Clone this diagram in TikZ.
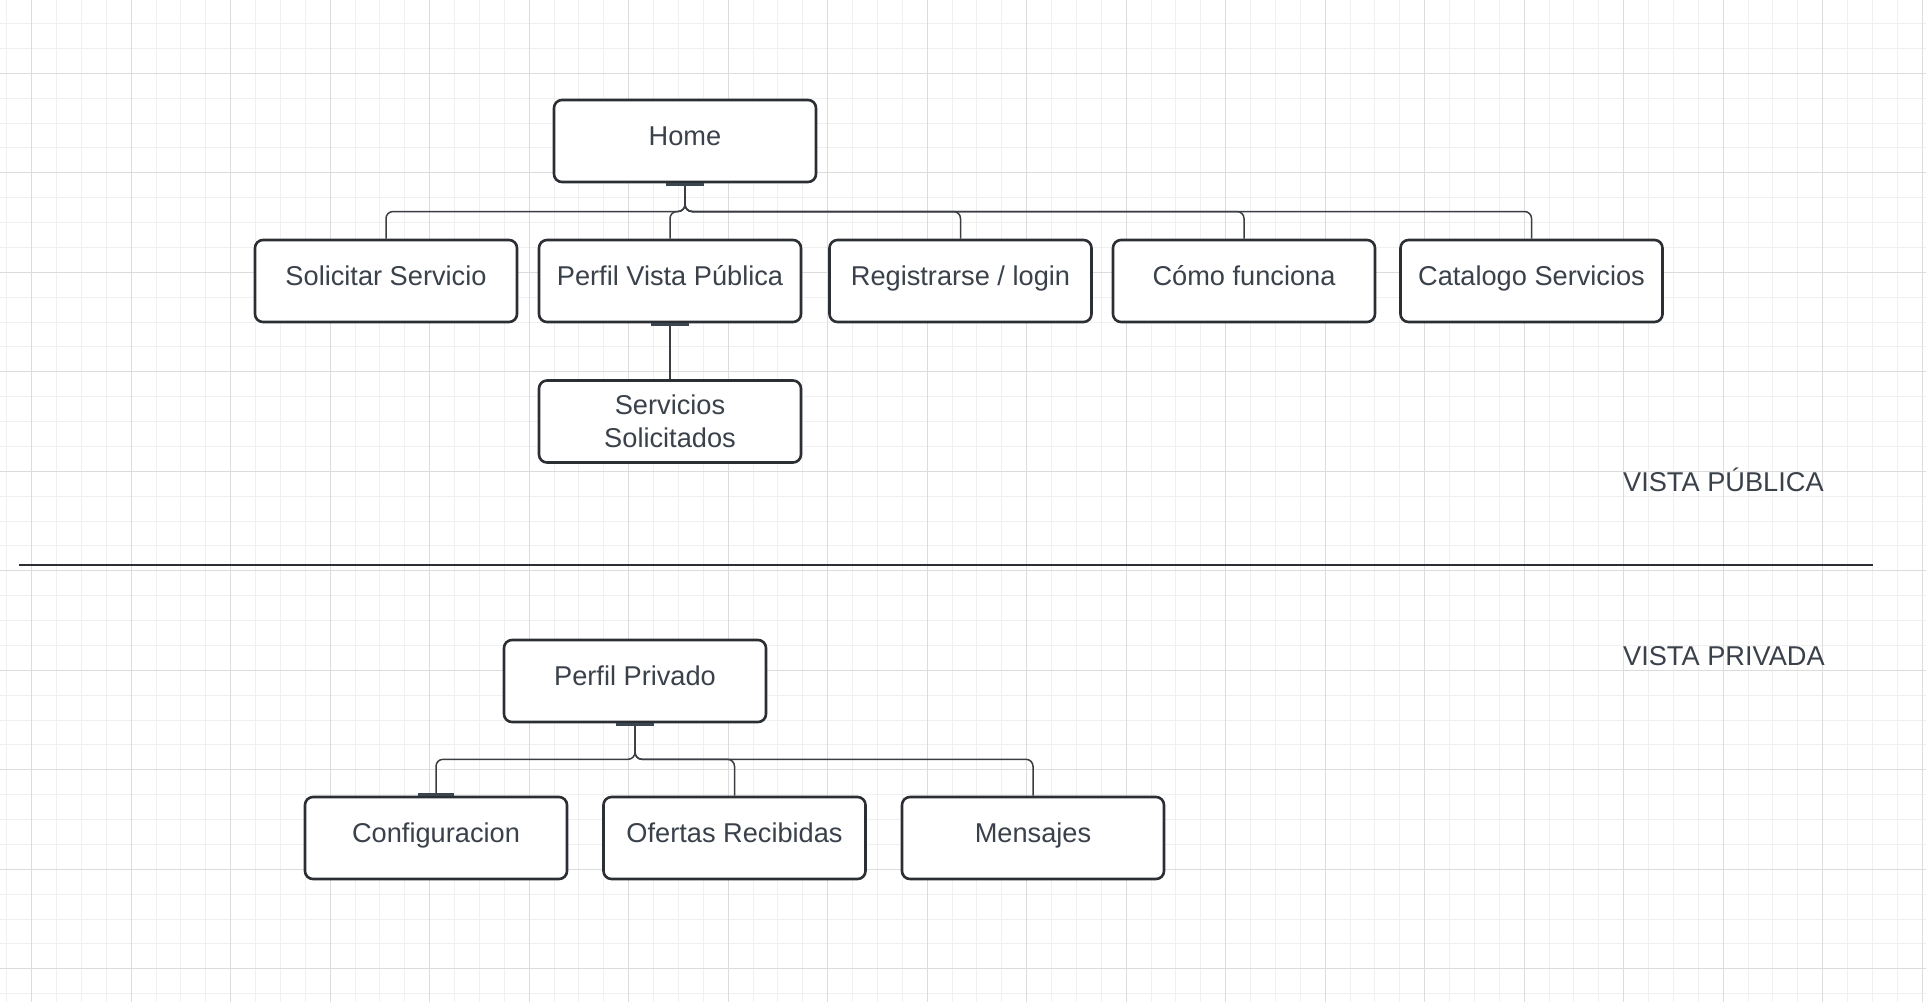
\documentclass[tikz,border=0pt]{standalone}
\usepackage{fontspec}
\setmainfont{Liberation Sans}
\usetikzlibrary{calc}
\definecolor{txt}{HTML}{3A414A}
\definecolor{edge}{HTML}{2B2E33}
\definecolor{wire}{HTML}{3A3D42}
\definecolor{gminor}{HTML}{F0F0F0}
\definecolor{gmajor}{HTML}{DCDCDC}
\definecolor{barc}{HTML}{3B4550}
\begin{document}
\begin{tikzpicture}[x=0.5pt,y=-0.5pt,
  box/.style={draw=edge, line width=1.3pt, rounded corners=4pt, fill=white,
    minimum width=131pt, minimum height=41pt, inner sep=0pt, text=txt,
    font=\fontsize{13.6}{16.35}\selectfont, align=center},
  one/.style={text height=9pt, text depth=4.5pt},
  conn/.style={draw=wire, line width=0.75pt, rounded corners=3.5pt},
  bar/.style={draw=barc, line width=1.5pt},
  lbl/.style={text=txt, font=\fontsize{13.6}{16.35}\selectfont, anchor=base west, inner sep=0pt},
  sepline/.style={draw=edge, line width=1.1pt}]
\fill[white] (0,0) rectangle (1926,1002);
\useasboundingbox (0,0) rectangle (1926,1002);
% grid
\foreach \j in {-1,...,76}{
  \pgfmathsetmacro\xx{31.7+\j*24.875}
  \draw[gminor, line width=0.5pt] (\xx,0) -- (\xx,1002);
}
\foreach \j in {-2,...,37}{
  \pgfmathsetmacro\yy{73.3+\j*24.875}
  \draw[gminor, line width=0.5pt] (0,\yy) -- (1926,\yy);
}
\foreach \k in {0,...,19}{
  \pgfmathsetmacro\xx{31.7+\k*99.5}
  \draw[gmajor, line width=0.5pt] (\xx,0) -- (\xx,1002);
}
\foreach \k in {0,...,9}{
  \pgfmathsetmacro\yy{73.3+\k*99.5}
  \draw[gmajor, line width=0.5pt] (0,\yy) -- (1926,\yy);
}
% coordinates
\coordinate (busA) at (0,211.5);
\coordinate (busB) at (0,759.3);
\coordinate (sepL) at (19,565);
\coordinate (sepR) at (1873,565);
% nodes
\node[box,one] (home) at (685,141) {Home};
\node[box,one] (sol)  at (386,281) {Solicitar Servicio};
\node[box,one] (pvp)  at (670,281) {Perfil Vista Pública};
\node[box,one] (reg)  at (960.5,281) {Registrarse / login};
\node[box,one] (como) at (1244,281) {Cómo funciona};
\node[box,one] (cat)  at (1531.5,281) {Catalogo Servicios};
\node[box] (ss) at (670,421.5) {Servicios\\Solicitados};
\node[box,one] (pp)   at (635,681) {Perfil Privado};
\node[box,one] (conf) at (436,838) {Configuracion};
\node[box,one] (ofe)  at (734.5,838) {Ofertas Recibidas};
\node[box,one] (men)  at (1033,838) {Mensajes};
% connectors
\foreach \c in {sol,pvp,reg,como,cat}{
  \draw[conn] (home.south) -- (home.south |- busA) -- (\c.north |- busA) -- (\c.north);
}
\draw[conn] (pvp.south) -- (ss.north);
\foreach \c in {conf,ofe,men}{
  \draw[conn] (pp.south) -- (pp.south |- busB) -- (\c.north |- busB) -- (\c.north);
}
% connection bars
\draw[bar] ($(home.south)+(-19,1)$) -- ($(home.south)+(19,1)$);
\draw[bar] ($(pvp.south)+(-19,1)$) -- ($(pvp.south)+(19,1)$);
\draw[bar] ($(pp.south)+(-19,1)$) -- ($(pp.south)+(19,1)$);
\draw[bar] ($(conf.north)+(-18,-1)$) -- ($(conf.north)+(18,-1)$);
% separator and labels
\draw[sepline] (sepL) -- (sepR);
\node[lbl] (vpub)  at (1622.7,491) {VISTA PÚBLICA};
\node[lbl] (vpriv) at (1622.7,665) {VISTA PRIVADA};
\end{tikzpicture}
\end{document}
